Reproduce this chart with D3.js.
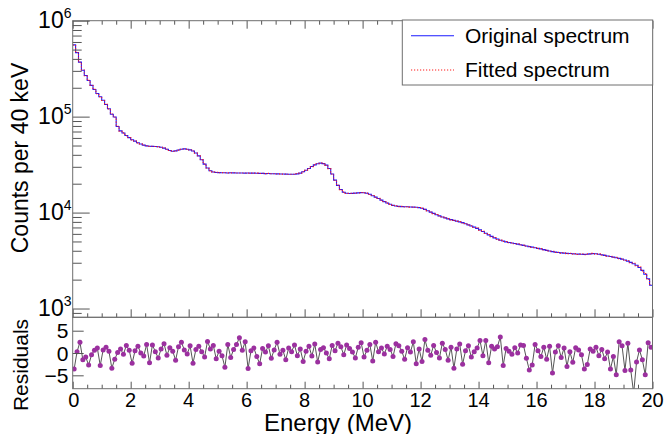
<!DOCTYPE html>
<html><head><meta charset="utf-8">
<script src="https://cdn.jsdelivr.net/npm/d3@7"></script>
<style>body{margin:0;background:#fff}svg{display:block;font-family:"Liberation Sans",Arial,sans-serif}</style>
</head><body><svg id="c" width="665" height="434"></svg>
<script>
// ---- data ----
const binWidth = 0.1; // MeV, bin i covers [i*0.1, (i+1)*0.1)
const counts = [
560000,465000,370000,305000,268000,238000,212000,192000,174000,161000,
148000,134000,121000,106000,99000,79000,71000,67500,63500,60500,
57500,55500,53500,51800,50500,49600,49200,49000,48900,48600,
48000,47000,45800,44300,43600,44000,44900,45700,46100,45800,
45000,43800,41800,39000,35500,32000,29200,27300,26500,26200,
26100,26000,26050,25900,26000,25950,25900,25850,25900,25800,
25850,25750,25800,25700,25600,25650,25500,25550,25400,25350,
25300,25250,25200,25150,25100,25050,25100,25300,25800,26600,
27600,28800,30200,31400,32300,32800,32400,31200,28800,25200,
21800,19200,17400,16300,15900,15800,15850,15950,16050,16150,
16100,15900,15500,15000,14500,14000,13500,13000,12600,12200,
11900,11700,11600,11550,11500,11500,11450,11400,11350,11250,
11100,10800,10450,10100,9800,9500,9250,9000,8800,8600,
8450,8300,8150,8000,7850,7650,7450,7250,7050,6850,
6600,6350,6100,5850,5650,5450,5300,5150,5050,4950,
4880,4820,4760,4690,4620,4550,4480,4420,4360,4300,
4240,4180,4110,4040,3980,3920,3870,3830,3800,3780,
3760,3740,3720,3700,3690,3680,3670,3680,3710,3730,
3720,3680,3630,3580,3530,3480,3430,3380,3330,3270,
3200,3120,3030,2930,2820,2680,2500,2280,2040,1750
];
// fitted spectrum: it overlays the original everywhere
const fittedCounts = [
558000,466000,369000,306000,267000,238500,211500,192500,173500,161500,
147500,134500,120500,106500,98500,79500,70500,67800,63200,60700,
57300,55700,53300,52000,50300,49800,49000,49100,48800,48700,
47900,47100,45700,44400,43500,44100,44800,45800,46000,45900,
44900,43900,41700,39100,35400,32100,29100,27400,26400,26300,
26000,26100,26000,25950,25950,26000,25850,25900,25850,25850,
25800,25800,25750,25750,25550,25700,25450,25600,25350,25400,
25250,25300,25150,25200,25050,25100,25050,25350,25750,26650,
27550,28850,30150,31450,32250,32850,32350,31250,28750,25250,
21750,19250,17350,16350,15850,15850,15800,16000,16000,16200,
16050,15950,15450,15050,14450,14050,13450,13050,12550,12250,
11850,11750,11550,11600,11450,11550,11400,11450,11300,11300,
11050,10850,10400,10150,9750,9550,9200,9050,8750,8650,
8400,8350,8100,8050,7800,7700,7400,7300,7000,6900,
6550,6400,6050,5900,5600,5500,5250,5200,5000,5000,
4850,4850,4730,4720,4590,4580,4450,4450,4330,4330,
4210,4210,4080,4070,3950,3950,3840,3860,3770,3810,
3730,3770,3690,3730,3660,3710,3640,3710,3680,3760,
3690,3710,3600,3610,3500,3510,3400,3410,3300,3300,
3170,3150,3000,2960,2790,2710,2470,2310,2010,1780
];
const residuals = [
-3.6,0.3,2.4,-1.5,-0.9,-2.7,-0.4,0.6,1.1,-2.8,
0.7,1.3,0.4,-3.4,-1.4,0.1,0.9,-0.3,1.7,0.6,
-2.3,0.5,1.5,0.0,-0.7,1.9,-2.2,1.8,0.3,-1.1,
0.9,2.1,-0.5,1.2,0.4,-1.6,1.4,2.4,0.7,-0.2,
1.6,-2.3,0.8,1.5,0.3,-0.9,2.6,0.9,1.7,-1.3,
0.4,-0.6,-3.2,1.9,-1.0,0.8,1.9,3.4,0.6,2.5,
-3.5,0.5,1.1,-0.8,-2.4,1.0,0.2,1.6,-1.2,0.7,
2.4,-0.3,0.6,-1.5,1.1,0.3,1.8,-0.6,0.9,-1.9,
0.4,1.5,-0.7,2.0,-2.0,0.8,1.2,0.0,-1.3,1.7,
0.5,2.2,1.4,-0.4,1.8,1.0,0.2,-1.1,1.3,2.3,
-0.9,0.6,1.9,-1.8,2.4,0.3,1.1,-0.2,1.5,0.8,
-0.8,2.1,1.6,0.4,-1.4,1.2,0.2,2.5,-2.4,0.9,
-1.9,3.0,0.6,-0.5,1.7,0.1,-1.1,2.2,0.8,-1.6,
1.3,-3.4,0.9,2.0,-2.5,0.5,1.6,-0.9,0.3,1.1,
2.8,-0.6,2.8,-2.2,1.5,0.9,1.4,3.6,-2.8,1.0,
0.4,-0.3,1.2,0.0,1.8,1.7,-1.2,-3.8,-2.7,1.9,
0.5,-0.8,1.3,-1.4,1.5,-4.5,0.2,1.6,-1.0,1.1,
-3.0,0.3,-2.1,1.2,0.7,-0.4,-3.6,-2.6,0.9,0.4,
1.3,-0.6,0.8,-1.3,0.2,-3.6,-0.8,-4.9,2.5,1.6,
-3.9,2.2,-3.8,-9.0,-2.0,0.7,-1.5,-4.9,2.3,1.3
];
const xMajorTicks = [0,2,4,6,8,10,12,14,16,18,20];
const xTickLabels = ["0","2","4","6","8","10","12","14","16","18","20"];
const yDecades = [3,4,5,6];
const resTicks = [-5,0,5];
const resTickLabels = ["\u22125","0","5"];
const legendLabels = ["Original spectrum","Fitted spectrum"];

// ---- layout ----
const L=72.7, R=652.5, T=20.7, M=317.3, B=388.7;
const svg = d3.select("#c");
const x = d3.scaleLinear([0,20],[L,R]);
const yTop = d3.scaleLog([810,1e6],[M,T]);
const yRes = d3.scaleLinear([-8,8],[B,M]);
const frameCol="#6e6e6e", tickCol="#555";

function stepPath(vals){
  let p="";
  vals.forEach((v,i)=>{
    const x0=x(i*binWidth), x1=x((i+1)*binWidth), yv=yTop(v);
    p += (i===0? `M${x0},${yv}` : `V${yv}`) + `H${x1}`;
  });
  return p;
}

const defs=svg.append("defs");
defs.append("clipPath").attr("id","cu").append("rect").attr("x",L).attr("y",T).attr("width",R-L).attr("height",M-T);
defs.append("clipPath").attr("id","cl").append("rect").attr("x",L).attr("y",M).attr("width",R-L).attr("height",B-M);

// spectra
const gU = svg.append("g").attr("clip-path","url(#cu)");
gU.append("path").attr("d",stepPath(counts)).attr("fill","none").attr("stroke","#1a1aff").attr("stroke-width",1.1);
gU.append("path").attr("d",stepPath(fittedCounts)).attr("fill","none").attr("stroke","#ff1a1a").attr("stroke-width",1.1).attr("stroke-dasharray","1.2,1.8");

// residuals
const gL = svg.append("g").attr("clip-path","url(#cl)");
const rc = (i)=>x((i+0.5)*binWidth);
gL.append("path").attr("d", d3.line().x((d,i)=>rc(i)).y(d=>yRes(d))(residuals))
  .attr("fill","none").attr("stroke","#555").attr("stroke-width",1);
gL.selectAll("circle").data(residuals).join("circle")
  .attr("cx",(d,i)=>rc(i)).attr("cy",d=>yRes(d)).attr("r",2.5).attr("fill","#9b309f");

// ---- axes / ticks ----
function styleAxis(g){ g.select(".domain").remove(); g.selectAll("line").attr("stroke",tickCol); g.selectAll("text").remove(); }
const xMinor = d3.range(0,20.01,0.5).filter(v=>Math.abs(v/2-Math.round(v/2))>1e-6);
svg.append("g").attr("transform",`translate(0,${T})`).call(d3.axisBottom(x).tickValues(xMajorTicks).tickSize(8)).call(styleAxis);
svg.append("g").attr("transform",`translate(0,${T})`).call(d3.axisBottom(x).tickValues(xMinor).tickSize(4)).call(styleAxis);
svg.append("g").attr("transform",`translate(0,${M})`).call(d3.axisTop(x).tickValues(xMajorTicks).tickSize(8)).call(styleAxis);
svg.append("g").attr("transform",`translate(0,${M})`).call(d3.axisTop(x).tickValues(xMinor).tickSize(4)).call(styleAxis);
svg.append("g").attr("transform",`translate(0,${B})`).call(d3.axisTop(x).tickValues(xMajorTicks).tickSize(7)).call(styleAxis);
svg.append("g").attr("transform",`translate(0,${B})`).call(d3.axisTop(x).tickValues(xMinor).tickSize(4)).call(styleAxis);
const yMaj = yDecades.map(d=>Math.pow(10,d));
const yMin = [];
[2,3].forEach(d=>{for(let k=2;k<=9;k++){const v=k*Math.pow(10,d); if(v>=810) yMin.push(v);} });
[4,5].forEach(d=>{for(let k=2;k<=9;k++) yMin.push(k*Math.pow(10,d));});
svg.append("g").attr("transform",`translate(${L},0)`).call(d3.axisLeft(yTop).tickValues(yMaj).tickSize(-17)).call(styleAxis);
svg.append("g").attr("transform",`translate(${L},0)`).call(d3.axisLeft(yTop).tickValues(yMin).tickSize(-9)).call(styleAxis);
svg.append("g").attr("transform",`translate(${L},0)`).call(d3.axisLeft(yRes).tickValues(resTicks).tickSize(-11)).call(styleAxis);

// frames
svg.append("rect").attr("x",L).attr("y",T).attr("width",R-L).attr("height",M-T).attr("fill","none").attr("stroke",frameCol);
svg.append("rect").attr("x",L).attr("y",M).attr("width",R-L).attr("height",B-M).attr("fill","none").attr("stroke",frameCol);

// ---- labels ----
const lab = svg.append("g").attr("fill","#000");
yDecades.forEach(d=>{
  const t = lab.append("text").attr("x",71.5).attr("y",yTop(Math.pow(10,d))+7).attr("text-anchor","end").style("font-size","23px");
  t.append("tspan").text("10");
  t.append("tspan").attr("dy",-10).style("font-size","14px").text(String(d));
});
resTicks.forEach((v,i)=>{
  lab.append("text").attr("x",68.5).attr("y",yRes(v)+7.5).attr("text-anchor","end").style("font-size","21px").text(resTickLabels[i]);
});
xMajorTicks.forEach((v,i)=>{
  lab.append("text").attr("x",x(v)+(i===0?1:0)).attr("y",407).attr("text-anchor","middle").style("font-size","20px").text(xTickLabels[i]);
});
lab.append("text").attr("transform","translate(28,158) rotate(-90)").attr("text-anchor","middle").style("font-size","23px").text("Counts per 40 keV");
lab.append("text").attr("transform","translate(28,365) rotate(-90)").attr("text-anchor","middle").style("font-size","21px").text("Residuals");
lab.append("text").attr("x",338).attr("y",431).attr("text-anchor","middle").style("font-size","24px").text("Energy (MeV)");

// ---- legend ----
const lg = svg.append("g");
lg.append("rect").attr("x",402.3).attr("y",20).attr("width",250.4).attr("height",65).attr("fill","#fff").attr("stroke",frameCol);
lg.append("line").attr("x1",411).attr("x2",454).attr("y1",35.7).attr("y2",35.7).attr("stroke","#1a1aff").attr("stroke-width",1.1);
lg.append("line").attr("x1",411).attr("x2",454).attr("y1",70).attr("y2",70).attr("stroke","#ff1a1a").attr("stroke-width",1.1).attr("stroke-dasharray","1.2,1.8");
lg.append("text").attr("x",465).attr("y",42.7).style("font-size","21px").text(legendLabels[0]);
lg.append("text").attr("x",465).attr("y",76.7).style("font-size","21px").text(legendLabels[1]);
</script></body></html>
